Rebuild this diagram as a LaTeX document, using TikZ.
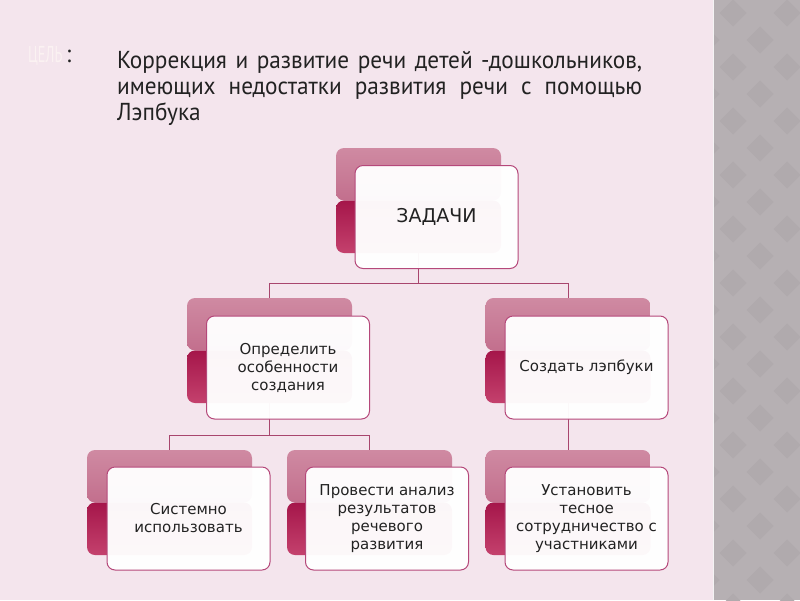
\documentclass[tikz,border=0pt]{standalone}
\usepackage{fontspec}
\setmainfont{DejaVu Sans}
\newfontfamily\titlefont[FakeStretch=0.95]{PT Sans}
\newfontfamily\goalfont[FakeStretch=0.62]{PT Sans}
\definecolor{bg}{HTML}{F4E5ED}
\definecolor{stripbg}{HTML}{B6B0B3}
\definecolor{stripdk}{HTML}{B0AAAD}
\definecolor{bka}{HTML}{CF8AA2}
\definecolor{bkb}{HTML}{B65478}
\definecolor{bkc}{HTML}{A5164A}
\definecolor{bkd}{HTML}{C4416D}
\definecolor{fb}{HTML}{B5487A}
\definecolor{conncol}{HTML}{A8466E}
\definecolor{txt}{HTML}{222222}
\definecolor{goal}{HTML}{FBF2F2}
\pgfdeclarelayer{bgl}
\pgfdeclarelayer{lines}
\pgfsetlayers{bgl,lines,main}
\tikzset{
  backbox/.style={minimum width=165pt, minimum height=105pt, rounded corners=8pt, inner sep=0pt,
    path picture={
      \shade[top color=bka,bottom color=bkb] (path picture bounding box.north west) rectangle (path picture bounding box.east);
      \shade[top color=bkc,bottom color=bkd] (path picture bounding box.west) rectangle (path picture bounding box.south east);}},
  frontbox/.style={draw=fb, line width=1pt, fill=white, fill opacity=0.965, text opacity=1,
    rounded corners=8pt, minimum width=163pt, minimum height=103pt, align=center,
    font=\fontsize{15}{18}\selectfont, text=txt, inner sep=2pt},
  conn/.style={draw=conncol, line width=0.9pt},
  titletext/.style={font=\titlefont\fontsize{24.5}{26}\selectfont, text=txt, inner sep=0pt, anchor=base west}
}
\begin{document}
\begin{tikzpicture}[x=1pt,y=-1pt]
\useasboundingbox (0,0) rectangle (800,600);
\begin{pgfonlayer}{bgl}
\fill[bg] (0,0) rectangle (800,600);
\fill[stripbg] (713,0) rectangle (800,600);
\begin{scope}
\clip (713,0) rectangle (800,600);
\foreach \r in {0,...,23}{
  \foreach \k in {-1,...,2}{
    \pgfmathsetmacro\cx{733+54*\k+27*mod(\r,2)}
    \pgfmathsetmacro\cy{13+27*\r}
    \fill[stripdk] (\cx-13.5,\cy) -- (\cx,\cy-13.5) -- (\cx+13.5,\cy) -- (\cx,\cy+13.5) -- cycle;
  }
}
\end{scope}
\draw[line width=0.8pt, color=white!85!stripbg] (713.4,0) -- (713.4,600);
\end{pgfonlayer}

% title
\node[titletext, text=goal, font=\goalfont\fontsize{23}{24}\selectfont] (goalw) at (28,62) {ЦЕЛЬ};
\node[titletext] (colon) at (66,62) {:};
\node[titletext] (t1) at (117,68) {\makebox[525pt][s]{Коррекция и развитие речи детей -дошкольников,}};
\node[titletext] (t2) at (117,94.5) {\makebox[525pt][s]{имеющих недостатки развития речи с помощью}};
\node[titletext] (t3) at (117,120) {Лэпбука};

% back boxes
\node[backbox] (bz) at (418.5,200.5) {};
\node[backbox] (bl) at (269.5,350.5) {};
\node[backbox] (br) at (568,350.5) {};
\node[backbox] (b1) at (169.5,502.5) {};
\node[backbox] (b2) at (369.5,502.5) {};
\node[backbox] (b3) at (568,502.5) {};

% front boxes
\node[frontbox, font=\fontsize{19}{22}\selectfont] (fz) at (436.5,217) {ЗАДАЧИ};
\node[frontbox] (fl) at (288,367.5) {Определить\\особенности\\создания};
\node[frontbox] (fr) at (586.5,367.5) {Создать лэпбуки};
\node[frontbox] (f1) at (188.5,518.5) {Системно\\использовать};
\node[frontbox] (f2) at (387,518.5) {Провести анализ\\результатов\\речевого\\развития};
\node[frontbox] (f3) at (586.5,518.5) {Установить\\тесное\\сотрудничество с\\участниками};

% connectors
\begin{pgfonlayer}{lines}
\draw[conn] (bz.south) -- ++(0,30) -| (bl.north);
\draw[conn] (bz.south) -- ++(0,30) -| (br.north);
\draw[conn] (bl.south) -- ++(0,32) -| (b1.north);
\draw[conn] (bl.south) -- ++(0,32) -| (b2.north);
\draw[conn] (br.south) -- (b3.north);
\end{pgfonlayer}
\end{tikzpicture}
\end{document}
